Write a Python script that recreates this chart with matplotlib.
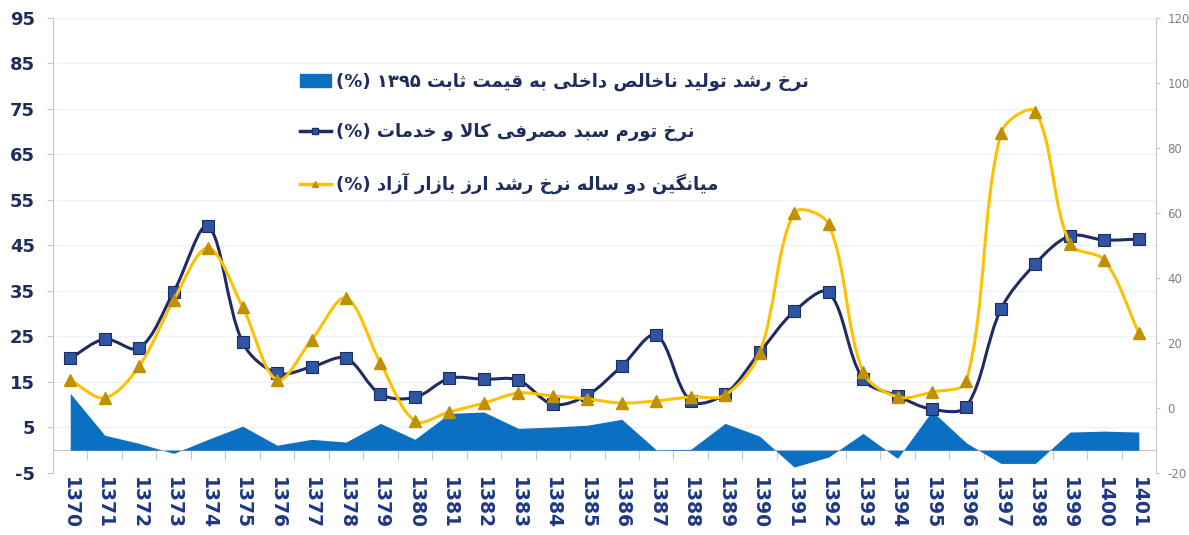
import re
import numpy as np
import matplotlib
matplotlib.use('Agg')
import matplotlib.pyplot as plt
from matplotlib.path import Path
from matplotlib.patches import PathPatch, Patch
from matplotlib.lines import Line2D

plt.rcParams['axes.unicode_minus'] = False

# داده‌ها
years = ['1370', '1371', '1372', '1373', '1374', '1375', '1376', '1377',
         '1378', '1379', '1380', '1381', '1382', '1383', '1384', '1385',
         '1386', '1387', '1388', '1389', '1390', '1391', '1392', '1393',
         '1394', '1395', '1396', '1397', '1398', '1399', '1400', '1401']
gdp = [12.5, 3.3, 1.5, -0.7, 2.4, 5.3, 1.1, 2.4, 1.8, 5.9, 2.4, 8.1, 8.4, 4.8, 5.1, 5.5,
       6.8, 0.1, 0.2, 5.9, 3.1, -3.7, -1.5, 3.7, -1.8, 8.6, 1.6, -2.9, -2.9, 4.0, 4.2, 4.0]
inflation = [20.2, 24.4, 22.4, 34.8, 49.2, 23.7, 16.9, 18.3, 20.2, 12.3, 11.6, 15.8, 15.6, 15.4, 10.1, 12.1,
             18.5, 25.3, 10.8, 12.4, 21.5, 30.5, 34.7, 15.6, 11.9, 9.0, 9.6, 31.0, 41.0, 47.1, 46.2, 46.4]
fx_growth = [8.6, 3.1, 12.9, 33.2, 49.2, 31.1, 8.6, 20.9, 33.8, 13.8, -4.0, -1.2, 1.5, 4.6, 3.7, 2.8,
             1.5, 2.2, 3.4, 4.0, 16.9, 60.0, 56.6, 11.1, 3.4, 4.9, 8.3, 84.6, 91.1, 50.5, 45.5, 23.1]

labels = ['نرخ رشد تولید ناخالص داخلی به قیمت ثابت ۱۳۹۵ (%)',
          'نرخ تورم سبد مصرفی کالا و خدمات (%)',
          'میانگین دو ساله نرخ رشد ارز بازار آزاد (%)']

# شکل‌دهی حروف فارسی (matplotlib خودش این کار را نمی‌کند)
FORMS = {
    '\u0627': (0xFE8D, 0xFE8E), '\u0622': (0xFE81, 0xFE82),
    '\u062F': (0xFEA9, 0xFEAA), '\u0631': (0xFEAD, 0xFEAE),
    '\u0632': (0xFEAF, 0xFEB0), '\u0648': (0xFEED, 0xFEEE),
    '\u0628': (0xFE8F, 0xFE90, 0xFE91, 0xFE92), '\u062A': (0xFE95, 0xFE96, 0xFE97, 0xFE98),
    '\u062B': (0xFE99, 0xFE9A, 0xFE9B, 0xFE9C), '\u062E': (0xFEA5, 0xFEA6, 0xFEA7, 0xFEA8),
    '\u0633': (0xFEB1, 0xFEB2, 0xFEB3, 0xFEB4), '\u0634': (0xFEB5, 0xFEB6, 0xFEB7, 0xFEB8),
    '\u0635': (0xFEB9, 0xFEBA, 0xFEBB, 0xFEBC), '\u0641': (0xFED1, 0xFED2, 0xFED3, 0xFED4),
    '\u0642': (0xFED5, 0xFED6, 0xFED7, 0xFED8), '\u0644': (0xFEDD, 0xFEDE, 0xFEDF, 0xFEE0),
    '\u0645': (0xFEE1, 0xFEE2, 0xFEE3, 0xFEE4), '\u0646': (0xFEE5, 0xFEE6, 0xFEE7, 0xFEE8),
    '\u0647': (0xFEE9, 0xFEEA, 0xFEEB, 0xFEEC), '\u06CC': (0xFBFC, 0xFBFD, 0xFBFE, 0xFBFF),
    '\u06A9': (0xFB8E, 0xFB8F, 0xFB90, 0xFB91), '\u06AF': (0xFB92, 0xFB93, 0xFB94, 0xFB95),
}
LAMALEF = {'\u0627': (0xFEFB, 0xFEFC), '\u0622': (0xFEF5, 0xFEF6)}


def dual(c):
    return c in FORMS and len(FORMS[c]) == 4


def fa(s):
    out = []
    i = 0
    while i < len(s):
        c = s[i]
        prev = s[i-1] if i > 0 else ''
        nxt = s[i+1] if i + 1 < len(s) else ''
        if c == '\u0644' and nxt in LAMALEF:
            out.append(chr(LAMALEF[nxt][1 if dual(prev) else 0]))
            i += 2
            continue
        if c in FORMS:
            f = FORMS[c]
            jp = dual(prev)
            jn = dual(c) and nxt in FORMS
            if jp and jn:
                out.append(chr(f[3]))
            elif jn:
                out.append(chr(f[2]))
            elif jp:
                out.append(chr(f[1]))
            else:
                out.append(chr(f[0]))
        else:
            out.append(c)
        i += 1
    v = ''.join(out)[::-1].translate(str.maketrans('()', ')('))
    return re.sub(r'[0-9\u06F0-\u06F9]+', lambda m: m.group(0)[::-1], v)


def smooth(axis, x, y, **kw):
    '''خط نرم مثل اکسل (بزیه، در فضای پیکسل)'''
    tr = axis.transData
    D = tr.transform(np.column_stack([x, y]).astype(float))
    n = len(D)
    L = np.hypot(*np.diff(D, axis=0).T)
    T = np.empty_like(D)
    T[1:-1] = D[2:] - D[:-2]
    T[0] = D[1] - D[0]
    T[-1] = D[-1] - D[-2]
    verts = [D[0]]
    codes = [Path.MOVETO]
    for i in range(n - 1):
        lp = L[i-1] if i > 0 else 0.0
        ln = L[i+1] if i + 1 < n - 1 else 0.0
        c1 = D[i] + T[i] * L[i] / (lp + L[i]) / 3
        c2 = D[i+1] - T[i+1] * L[i] / (L[i] + ln) / 3
        verts += [c1, c2, D[i+1]]
        codes += [Path.CURVE4] * 3
    verts = tr.inverted().transform(np.array(verts))
    return PathPatch(Path(verts, codes), fill=False, **kw)


navy = '#1f2b63'
gold = '#ffc000'
blue = '#0b6fc3'
txt = '#1f2d5c'

fig = plt.figure(figsize=(11.89, 5.35), dpi=100)
ax = fig.add_axes([0.0446, 0.1159, 0.9277, 0.8505])
x = np.arange(len(years))

ax.set_xlim(-0.5, len(years) - 0.5)
ax.set_ylim(-5, 95)
ax.set_yticks(np.arange(-5, 96, 10))

ax.fill_between(x, gdp, 0, color=blue, lw=0, zorder=2)
ax.add_patch(smooth(ax, x, inflation, color=navy, lw=2.2, zorder=3))
ax.plot(x, inflation, ls='none', marker='s', ms=8, mfc='#2d55a2', mec=navy, mew=0.8, zorder=4)

ax.yaxis.grid(True, color='#eef1f7', lw=1)
ax.set_axisbelow(True)
for s in ['top', 'right', 'bottom']:
    ax.spines[s].set_visible(False)
ax.spines['left'].set_color('#c8c8c8')
ax.tick_params(axis='y', length=4, color='#c8c8c8', pad=9, labelsize=13, labelcolor=txt)
for t in ax.get_yticklabels():
    t.set_fontweight('bold')
ax.set_xticks(x)
ax.set_xticklabels(years, rotation=-90, fontsize=13.5, fontweight='bold', color='#1d3784')
ax.tick_params(axis='x', length=0, pad=3)

# محور دسته‌ها روی صفر
sec = ax.secondary_xaxis((0 - (-5)) / 100)
sec.set_xticks(np.arange(-0.5, len(years), 1))
sec.set_xticklabels([])
sec.tick_params(length=7, color='#c8c8c8')
sec.spines['bottom'].set_color('#c8c8c8')

ax2 = ax.twinx()
ax2.set_ylim(-20, 120)
ax2.set_yticks(range(-20, 121, 20))
ax2.add_patch(smooth(ax2, x, fx_growth, color=gold, lw=2.2, zorder=3))
ax2.plot(x, fx_growth, ls='none', marker='^', ms=8, color='#bf9000', zorder=4)
for s in ['top', 'left', 'bottom']:
    ax2.spines[s].set_visible(False)
ax2.spines['right'].set_color('#c8c8c8')
ax2.tick_params(axis='y', length=3, color='#c8c8c8', pad=5, labelsize=8.5, labelcolor='#7f7f7f')

handles = [Patch(color=blue),
           Line2D([], [], color=navy, lw=2.5, marker='s', ms=5, mfc='#2d55a2', mec=navy),
           Line2D([], [], color=gold, lw=2.5, marker='^', ms=5, mfc='#bf9000', mec='#bf9000')]
leg = ax2.legend(handles, [fa(l) for l in labels], loc='upper left',
                 bbox_to_anchor=(300 / 1189, 1 - 73 / 535), bbox_transform=fig.transFigure,
                 frameon=False, borderpad=0, borderaxespad=0, handlelength=1.7,
                 handletextpad=0.3, labelspacing=1.75,
                 prop={'family': 'DejaVu Sans', 'weight': 'bold', 'size': 13})
for t in leg.get_texts():
    t.set_color(txt)

fig.savefig('out.png', dpi=100)
